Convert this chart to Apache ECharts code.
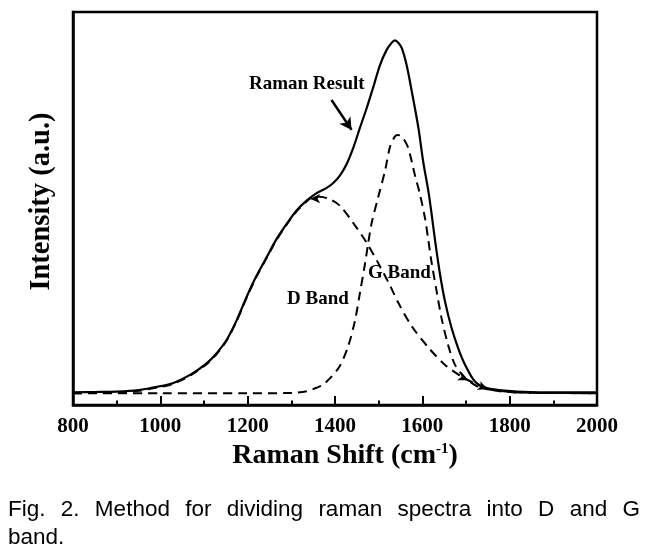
<!DOCTYPE html>
<html>
<head>
<meta charset="utf-8">
<script src="https://cdn.jsdelivr.net/npm/echarts@6/dist/echarts.min.js"></script>
<style>
  html, body { margin: 0; padding: 0; background: #fff; }
  #chart { width: 657px; height: 552px; }
</style>
</head>
<body>
<div id="chart"></div>
<script>
// ---- data ----
const shiftResult = [800,850,900,950,1000,1030,1070,1106,1130,1152,1175,1198,1220,1244,1265,1290,1312,1335,1358,1380,1396,1412,1427,1442,1457,1473,1488,1503,1518,1530,1537,1545,1553,1564,1576,1591,1602,1614,1621,1629,1640,1652,1667,1682,1698,1721,1748,1794,1847,1900,2000];
const intensityResult = [3.25,3.3,3.4,3.8,4.8,5.6,7.8,10.6,13.3,16.6,21.6,27.6,32.8,37.7,42,46.2,49.5,52.0,53.9,55.2,56.5,58.5,61.4,65.5,70.5,75.7,81,86.5,90.3,92.2,92.8,92.2,90.8,86.5,79.7,70.5,61.9,54.3,48.8,42.0,33.6,26.3,19.6,14.5,10.2,5.9,4.3,3.6,3.3,3.25,3.25];

const shiftD = [800,850,900,950,1000,1030,1070,1106,1130,1152,1175,1198,1220,1244,1265,1290,1312,1335,1343,1365,1389,1411,1442,1473,1499,1526,1545,1576,1614,1652,1690,1705,1728,1760,1800,1850,2000];
const intensityD = [3.0,3.05,3.15,3.6,4.6,5.4,7.6,10.4,13.1,16.4,21.4,27.4,32.6,37.5,41.8,46.0,49.3,51.8,52.5,53.0,52.3,50.7,46.3,41.2,36.1,30.4,26.0,20.0,14.6,10.2,7.2,6.3,5.1,3.8,3.3,3.1,3.0];

const shiftG = [800,1000,1200,1300,1335,1360,1373,1392,1411,1430,1446,1457,1469,1476,1484,1499,1515,1526,1537,1544,1553,1567,1583,1595,1606,1613,1621,1633,1644,1659,1675,1698,1728,1750,1800,1850,2000];
const intensityG = [3.0,3.0,3.0,3.05,3.5,4.5,5.2,7.2,9.9,14.9,21.6,28.5,36.1,41.2,46.3,52.9,59.8,65.7,68.3,68.7,68.3,65.6,58.5,53.4,47.6,42.5,36.4,28.8,22.1,15.3,10.2,6.9,4.6,4.0,3.3,3.1,3.0];

const xTicks = [800,1000,1200,1400,1600,1800,2000];

// arrowheads drawn on the band curves: {index: rotation}
const dArrows = {18: 90, 31: -115};
const gArrows = {33: -112};

// annotation arrow for "Raman Result" (data coords)
const resultArrowFrom = [1392, 77.6];
const resultArrowTo = [1438, 70.0];

const captionLine1 = ['Fig.', '2.', 'Method', 'for', 'dividing', 'raman', 'spectra', 'into', 'D', 'and', 'G'];
const captionLine2 = 'band.';

const zip = (a, b) => a.map((v, i) => [v, b[i]]);

const serif = '"Liberation Serif", "Times New Roman", serif';
const chart = echarts.init(document.getElementById('chart'), null, {renderer: 'canvas'});

function bandSeries(name, xs, ys, arrows) {
  return {
    name, type: 'line', data: zip(xs, ys), smooth: 0.3,
    showSymbol: true, showAllSymbol: true,
    symbol: (v, p) => (p.dataIndex in arrows ? 'arrow' : 'none'),
    symbolRotate: (v, p) => (p.dataIndex in arrows ? arrows[p.dataIndex] : 0),
    symbolSize: [7, 10],
    itemStyle: {color: '#000'},
    lineStyle: {color: '#000', width: 2, type: [9, 6]},
    silent: true, z: 2
  };
}

chart.setOption({
  animation: false,
  backgroundColor: '#fff',
  grid: {left: 73, right: 60, top: 12, bottom: 147, show: true, borderColor: '#000', borderWidth: 2.5, backgroundColor: 'transparent'},
  xAxis: {
    type: 'value', min: 800, max: 2000, interval: 200,
    name: '{n|Raman Shift (cm}{s|-1}{n|)}',
    nameLocation: 'middle', nameGap: 29,
    nameTextStyle: {
      padding: [0, 0, 0, 20],
      rich: {
        n: {fontFamily: serif, fontWeight: 'bold', fontSize: 28, color: '#000'},
        s: {fontFamily: serif, fontWeight: 'bold', fontSize: 15, color: '#000', verticalAlign: 'top'}
      }
    },
    axisLine: {show: true, lineStyle: {color: '#000', width: 2.5}},
    axisTick: {show: true, inside: true, length: 9, lineStyle: {color: '#000', width: 2}},
    minorTick: {show: true, splitNumber: 2, length: 4.5, lineStyle: {color: '#000', width: 2}},
    splitLine: {show: false},
    axisLabel: {
      margin: 11, color: '#000', fontFamily: serif, fontWeight: 'bold', fontSize: 21,
      formatter: v => (xTicks.includes(v) ? String(v) : '')
    }
  },
  yAxis: {
    type: 'value', min: 0, max: 100,
    name: 'Intensity (a.u.)', nameLocation: 'middle', nameGap: 17, nameRotate: 90,
    nameTextStyle: {fontFamily: serif, fontWeight: 'bold', fontSize: 28.5, color: '#000', padding: [0, 0, 0, 14]},
    axisLine: {show: true, lineStyle: {color: '#000', width: 2.5}},
    axisTick: {show: false}, axisLabel: {show: false}, splitLine: {show: false}
  },
  series: [
    bandSeries('D Band', shiftD, intensityD, dArrows),
    bandSeries('G Band', shiftG, intensityG, gArrows),
    {
      name: 'Raman Result', type: 'line', data: zip(shiftResult, intensityResult), smooth: 0.3,
      showSymbol: false, silent: true, z: 3,
      lineStyle: {color: '#000', width: 2.2, type: 'solid'},
      markLine: {
        silent: true, symbol: ['none', 'arrow'], symbolSize: [10, 12],
        label: {show: false},
        lineStyle: {color: '#000', width: 2.5, type: 'solid'},
        data: [[{coord: resultArrowFrom}, {coord: resultArrowTo}]]
      }
    }
  ],
  graphic: [
    {type: 'text', left: 249, top: 75, style: {text: 'Raman Result', font: 'bold 19px ' + serif, fill: '#000'}},
    {type: 'text', left: 287, top: 290, style: {text: 'D Band', font: 'bold 19px ' + serif, fill: '#000'}},
    {type: 'text', left: 368, top: 264, style: {text: 'G Band', font: 'bold 19px ' + serif, fill: '#000'}},
    {type: 'text', left: 8, top: 496, style: {
      text: captionLine1.join('{s| }') + '\n' + captionLine2,
      font: '22.5px "Liberation Sans", Arial, sans-serif', fill: '#000', lineHeight: 28,
      rich: {s: {width: 15.3, font: '22.5px "Liberation Sans", Arial, sans-serif', lineHeight: 28}}
    }}
  ]
});
</script>
</body>
</html>
